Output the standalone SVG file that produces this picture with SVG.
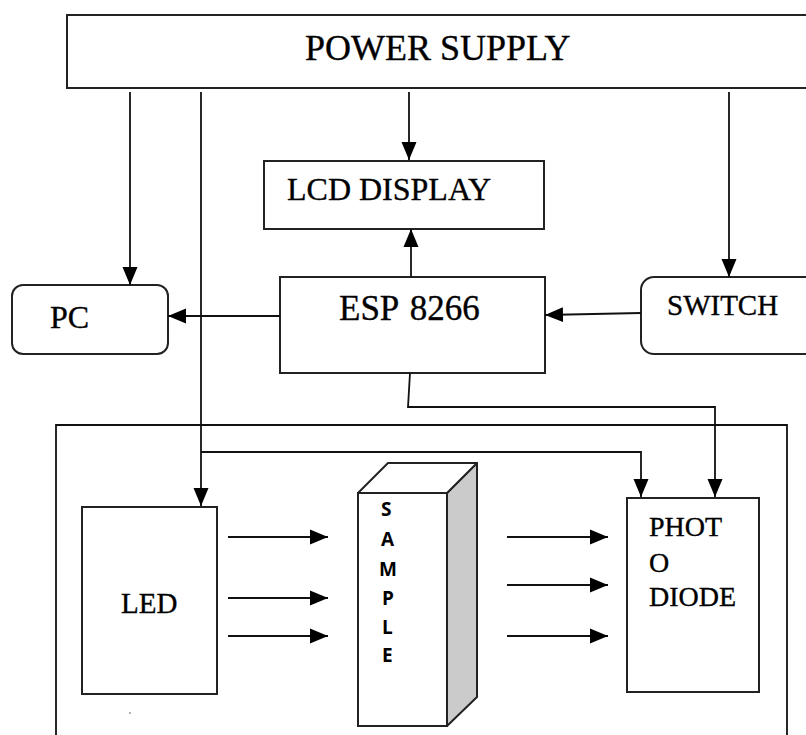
<svg xmlns="http://www.w3.org/2000/svg" width="806" height="735" viewBox="0 0 806 735">
<style>
.box{fill:#fff;stroke:#222;stroke-width:2}
.ln{fill:none;stroke:#111;stroke-width:1.8}
.t{font-family:"Liberation Serif","Times New Roman",serif;fill:#000;stroke:#000;stroke-width:0.35}
.s{font-family:"Open Sans","Liberation Sans",sans-serif;font-weight:bold;font-size:19px;fill:#000}
</style>
<defs>
<marker id="ah" markerUnits="userSpaceOnUse" markerWidth="18" markerHeight="16" refX="18" refY="8" orient="auto">
<path d="M0,0.5 L18,8 L0,15.5 z" fill="#000"/>
</marker>
</defs>
<rect width="806" height="735" fill="#fff"/>

<g id="outer">
<path class="ln" d="M56,740 L56,425 L787,425 L787,740"/>
</g>

<g id="power-supply">
<rect class="box" x="67" y="15" width="760" height="73"/>
<text class="t" x="305" y="60" font-size="36">POWER SUPPLY</text>
</g>

<g id="lcd">
<rect class="box" x="264" y="161" width="280" height="68"/>
<text class="t" x="287" y="200" font-size="32">LCD DISPLAY</text>
</g>

<g id="pc">
<rect class="box" x="12" y="285" width="156" height="69" rx="11"/>
<text class="t" x="50" y="328" font-size="32">PC</text>
</g>

<g id="esp">
<rect class="box" x="280" y="277" width="265" height="96"/>
<text class="t" x="339" y="320" font-size="35" word-spacing="3">ESP 8266</text>
</g>

<g id="switch">
<rect class="box" x="641" y="277" width="190" height="77" rx="13"/>
<text class="t" x="667" y="315" font-size="29">SWITCH</text>
</g>

<g id="led">
<rect class="box" x="82" y="507" width="135" height="187"/>
<text class="t" x="121" y="613" font-size="29">LED</text>
</g>

<g id="sample">
<polygon points="447,493 477,463 477,697 447,726" fill="#cbcbcb" stroke="#222" stroke-width="2" stroke-linejoin="round"/>
<polygon points="358,493 388,463 477,463 447,493" fill="#fff" stroke="#222" stroke-width="2" stroke-linejoin="round"/>
<rect class="box" x="358" y="493" width="89" height="233"/>
<text class="s" x="381" y="516">S</text>
<text class="s" x="381" y="546">A</text>
<text class="s" x="379" y="576">M</text>
<text class="s" x="382" y="605">P</text>
<text class="s" x="382" y="634">L</text>
<text class="s" x="382" y="662">E</text>
</g>

<g id="photodiode">
<rect class="box" x="627" y="498" width="132" height="194"/>
<text class="t" x="649" y="536" font-size="28">PHOT</text>
<text class="t" x="649" y="572" font-size="28">O</text>
<text class="t" x="649" y="606" font-size="28">DIODE</text>
</g>

<g id="connectors">
<path class="ln" d="M130,92 L130,285" marker-end="url(#ah)"/>
<path class="ln" d="M201,92 L201,506" marker-end="url(#ah)"/>
<path class="ln" d="M409,92 L409,160" marker-end="url(#ah)"/>
<path class="ln" d="M729,92 L729,277" marker-end="url(#ah)"/>
<path class="ln" d="M411,277 L411,229" marker-end="url(#ah)"/>
<path class="ln" d="M280,316 L168,316" marker-end="url(#ah)"/>
<path class="ln" d="M641,313 L545,315" marker-end="url(#ah)"/>
<path class="ln" d="M410,373 L408,407 L715,407 L715,497" marker-end="url(#ah)"/>
<path class="ln" d="M201,452 L641,452 L641,497" marker-end="url(#ah)"/>
<path class="ln" d="M228,537 L328,537" marker-end="url(#ah)"/>
<path class="ln" d="M228,598 L328,598" marker-end="url(#ah)"/>
<path class="ln" d="M228,636 L328,636" marker-end="url(#ah)"/>
<path class="ln" d="M507,537 L608,537" marker-end="url(#ah)"/>
<path class="ln" d="M507,585 L608,585" marker-end="url(#ah)"/>
<path class="ln" d="M507,636 L608,636" marker-end="url(#ah)"/>
</g>

<circle cx="130" cy="713" r="1" fill="#999"/>
</svg>
